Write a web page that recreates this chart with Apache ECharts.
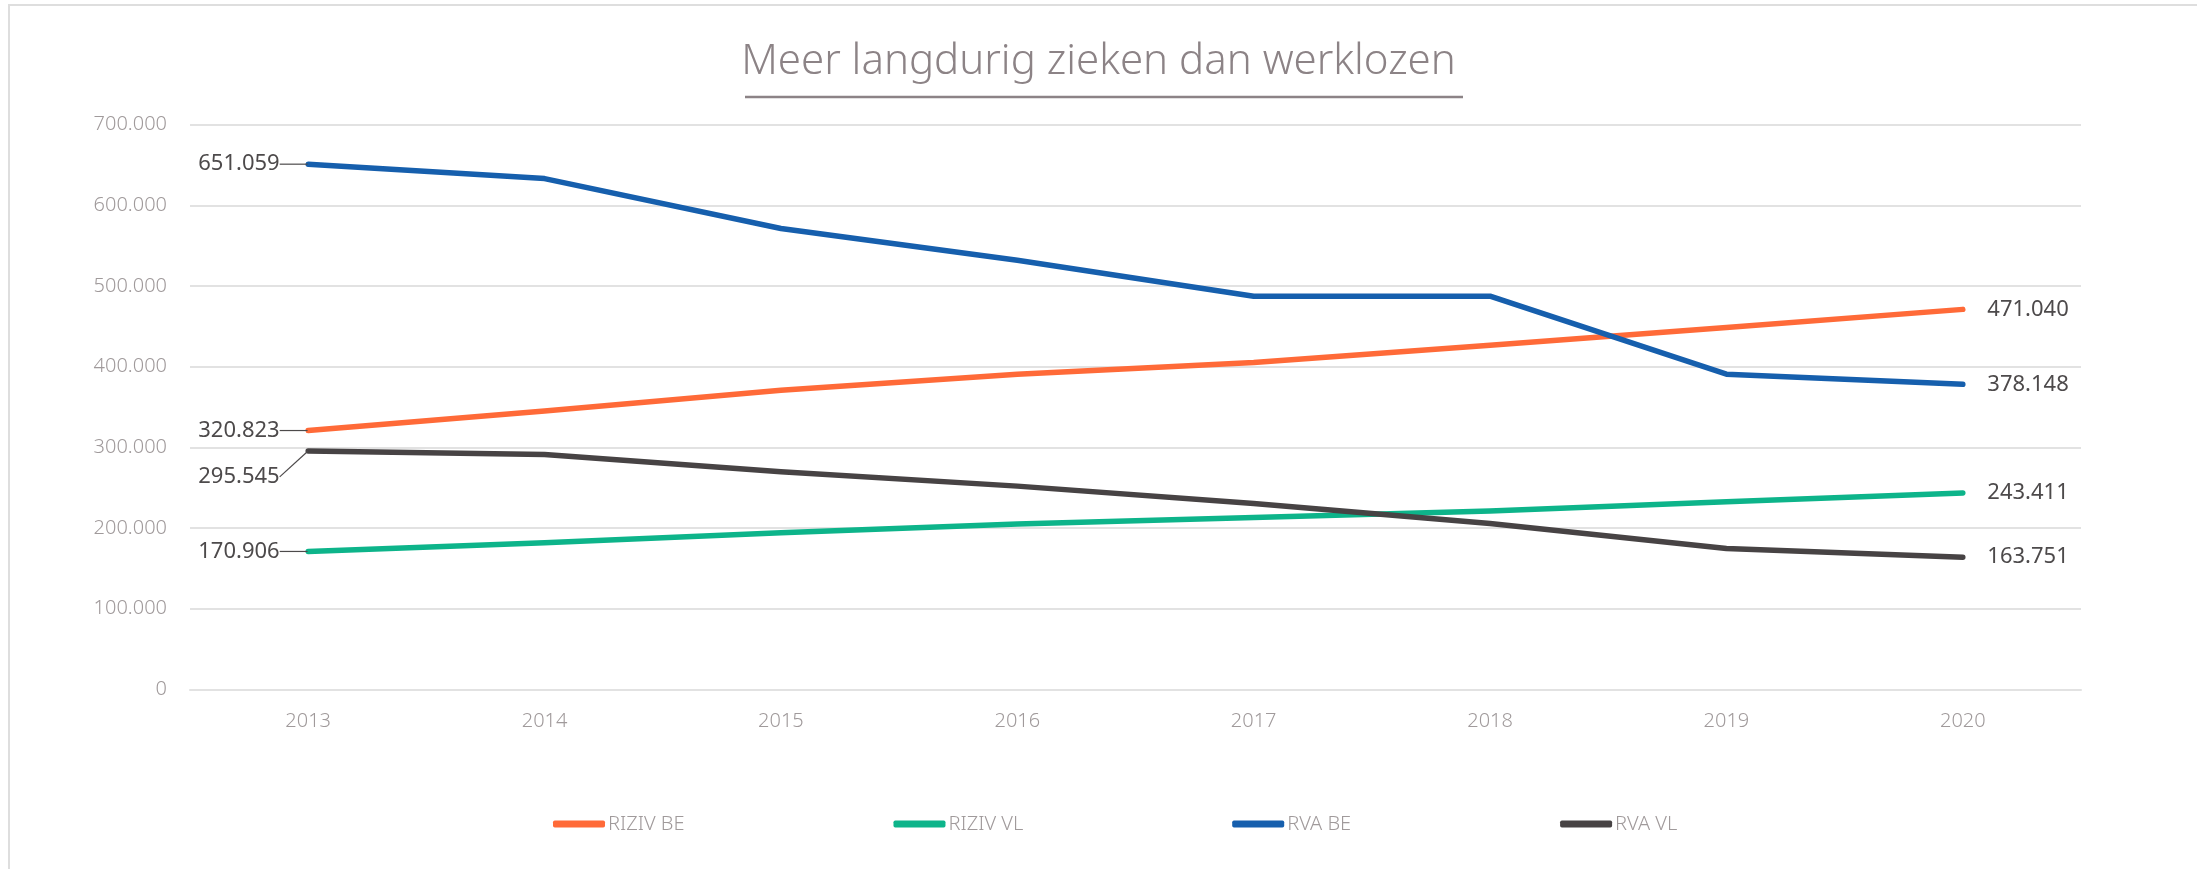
<!DOCTYPE html>
<html>
<head>
<meta charset="utf-8">
<title>Meer langdurig zieken dan werklozen</title>
<script src="https://cdn.jsdelivr.net/npm/echarts@6/dist/echarts.min.js"></script>
<style>
  html, body { margin: 0; padding: 0; background: #fff; }
  #chart { width: 2197px; height: 869px; }
</style>
</head>
<body>
<div id="chart"></div>
<script>
// jaren
const years = ['2013', '2014', '2015', '2016', '2017', '2018', '2019', '2020'];

const rizivBE = [320823, 344900, 370900, 390700, 405200, 426600, 448600, 471040];
const rizivVL = [170906, 181700, 194100, 204800, 213100, 221000, 232500, 243411];
const rvaBE   = [651059, 633200, 571300, 532000, 487400, 487400, 390700, 378148];
const rvaVL   = [295545, 291200, 269600, 251900, 230500, 205700, 174700, 163751];

const seriesNames = ['RIZIV BE', 'RIZIV VL', 'RVA BE', 'RVA VL'];
const seriesColors = ['#ff6a38', '#0db48a', '#165fad', '#474344'];

const FONT = '"Noto Sans", "Open Sans", sans-serif';

// 651059 -> 651.059
function fmt(v) {
  return String(Math.round(v)).replace(/\B(?=(\d{3})+(?!\d))/g, '.');
}

function buildSeries(name, values, color, idx) {
  const last = values.length - 1;
  return {
    name: name,
    type: 'line',
    data: values.map(function (v, i) {
      if (i === 0) {
        return { value: v, label: { show: true, position: 'left', distance: 28 } };
      }
      if (i === last) {
        return {
          value: v,
          label: { show: true, position: 'right', distance: 24 },
          labelLine: { show: false }
        };
      }
      return v;
    }),
    symbol: 'circle',
    symbolSize: 1,
    showSymbol: true,
    itemStyle: { color: color },
    lineStyle: { color: color, width: 5.5, cap: 'round', join: 'round' },
    label: {
      show: false,
      formatter: function (p) { return fmt(p.value); },
      fontFamily: FONT,
      fontSize: 22,
      color: '#4d4a4b'
    },
    labelLine: {
      show: true,
      lineStyle: { color: '#4d4a4b', width: 1.2 }
    },
    labelLayout: function (p) {
      // label van RVA VL 2013 staat onder de lijn
      if (idx === 3 && p.dataIndex === 0) return { dy: 26 };
      return {};
    },
    emphasis: { disabled: true },
    animation: false
  };
}

const chart = echarts.init(document.getElementById('chart'));

const option = {
  backgroundColor: '#fff',
  animation: false,
  title: {
    text: 'Meer langdurig zieken dan werklozen',
    left: 'center',
    top: 36,
    textStyle: {
      fontFamily: FONT,
      fontWeight: 300,
      fontSize: 42,
      color: '#8c8386'
    }
  },
  graphic: [
    {
      type: 'rect',
      silent: true,
      shape: { x: 9, y: 5, width: 2400, height: 1000 },
      style: { fill: 'none', stroke: '#dedede', lineWidth: 2 }
    },
    {
      type: 'line',
      silent: true,
      shape: { x1: 745, y1: 97, x2: 1463, y2: 97 },
      style: { stroke: '#8c8386', lineWidth: 2.5 }
    }
  ],
  legend: {
    left: 548,
    top: 809,
    icon: 'roundRect',
    itemWidth: 52,
    itemHeight: 7,
    itemGap: 209,
    textStyle: {
      fontFamily: FONT,
      fontWeight: 300,
      fontSize: 20,
      color: '#a09a9b',
      padding: [0, 0, 0, -2]
    },
    data: seriesNames
  },
  grid: {
    left: 190,
    right: 116,
    top: 124.7,
    bottom: 179.7,
    containLabel: false
  },
  xAxis: {
    type: 'category',
    data: years,
    boundaryGap: true,
    axisTick: { show: false },
    axisLine: { lineStyle: { color: '#e2e2e2', width: 2 } },
    axisLabel: {
      fontFamily: FONT,
      fontWeight: 300,
      fontSize: 20,
      color: '#a09a9b',
      margin: 22
    }
  },
  yAxis: {
    type: 'value',
    min: 0,
    max: 700000,
    interval: 100000,
    axisLine: { show: false },
    axisTick: { show: false },
    splitLine: { lineStyle: { color: '#e2e2e2', width: 2 } },
    axisLabel: {
      fontFamily: FONT,
      fontWeight: 300,
      fontSize: 20,
      color: '#a09a9b',
      margin: 23,
      formatter: function (v) { return fmt(v); }
    }
  },
  series: [
    buildSeries(seriesNames[0], rizivBE, seriesColors[0], 0),
    buildSeries(seriesNames[1], rizivVL, seriesColors[1], 1),
    buildSeries(seriesNames[2], rvaBE, seriesColors[2], 2),
    buildSeries(seriesNames[3], rvaVL, seriesColors[3], 3)
  ]
};

chart.setOption(option);
window.addEventListener('resize', function () { chart.resize(); });
</script>
</body>
</html>
